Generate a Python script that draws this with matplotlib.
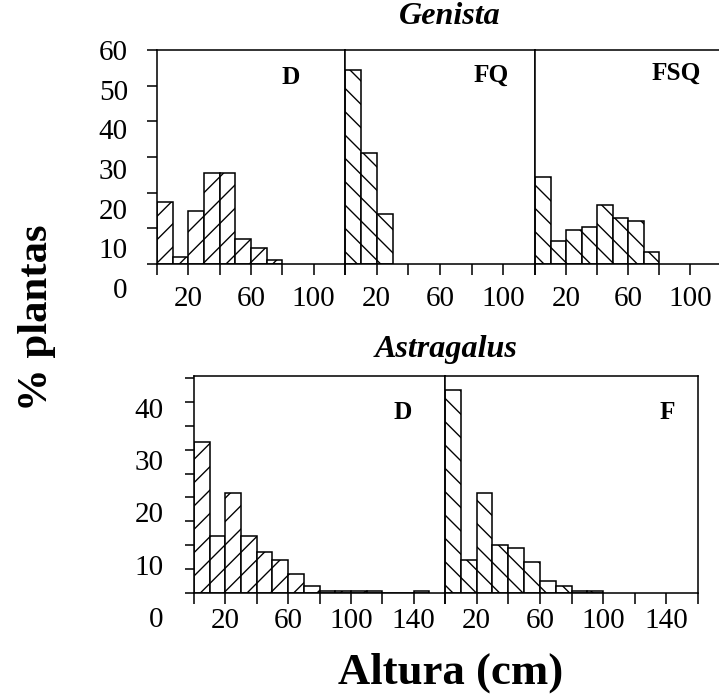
import matplotlib
matplotlib.use("Agg")
import matplotlib.pyplot as plt
from matplotlib.transforms import ScaledTranslation

plt.rcParams['font.family'] = ['Liberation Serif', 'DejaVu Serif']
plt.rcParams['hatch.linewidth'] = 0.7

# Genista: % de plantas por clase de altura (cm), borde izquierdo de cada clase
clases_genista_D = [0, 10, 20, 30, 40, 50, 60, 70]
genista_D = [17.5, 2, 15, 25.5, 25.5, 7, 4.5, 1]
clases_genista_FQ = [0, 10, 20]
genista_FQ = [54.5, 31, 14]
clases_genista_FSQ = [0, 10, 20, 30, 40, 50, 60, 70]
genista_FSQ = [24.5, 6.5, 9.5, 10.5, 16.5, 13, 12, 3.5]

# Astragalus
clases_astragalus_D = [0, 10, 20, 30, 40, 50, 60, 70, 80, 90, 100, 110, 120, 130, 140]
astragalus_D = [31.5, 12, 21, 12, 8.5, 7, 4, 1.5, 0.5, 0.5, 0.5, 0.5, 0, 0, 0.5]
clases_astragalus_F = [0, 10, 20, 30, 40, 50, 60, 70, 80, 90]
astragalus_F = [42.5, 7, 21, 10, 9.5, 6.5, 2.5, 1.5, 0.5, 0.5]

# ticks
xt_genista = [0, 20, 40, 60, 80, 100, 120]
xl_genista = ['', '20', '', '60', '', '100', '']
yt_genista = [0, 10, 20, 30, 40, 50, 60]
yl_genista = ['0', '10', '20', '30', '40', '50', '60']
xt_astragalus = [0, 20, 40, 60, 80, 100, 120, 140, 160]
xl_astragalus = ['', '20', '', '60', '', '100', '', '140', '']
yt_astragalus = [0, 5, 10, 15, 20, 25, 30, 35, 40, 45]
yl_astragalus = ['0', '', '10', '', '20', '', '30', '', '40', '']

W, H, DPI = 719, 700, 140
fig = plt.figure(figsize=(W / DPI, H / DPI), dpi=DPI)


def caja(x0, y0, x1, y1):
    # posicion en pixeles (origen arriba a la izquierda)
    return fig.add_axes([x0 / W, 1 - y1 / H, (x1 - x0) / W, (y1 - y0) / H])


def panel(ax, clases, valores, trama, letra, lx, ly, xmax, ymax, xt, xl, xpad):
    ax.bar(clases, valores, width=10, align='edge', facecolor='white',
           edgecolor='black', linewidth=0.8, hatch=trama, zorder=2)
    ax.set_xlim(0, xmax)
    ax.set_ylim(0, ymax)
    ax.set_xticks(xt)
    ax.set_xticklabels(xl)
    ax.set_yticks([])
    for s in ax.spines.values():
        s.set_linewidth(0.8)
    ax.tick_params(axis='x', direction='out', length=5.5, width=0.8,
                   labelsize=15, pad=xpad)
    ax.text(lx, ly, letra, transform=ax.transAxes, fontweight='bold',
            fontsize=13, ha='center', va='center')


def eje_y(ax, yt, yl, ytop, k, base, largo, pad):
    ax.set_yticks(yt)
    ax.set_yticklabels(yl)
    ax.tick_params(axis='y', direction='out', length=largo, width=0.8,
                   labelsize=15, pad=pad)
    # las etiquetas del original estan algo desplazadas hacia abajo
    for v, lab in zip(yt, ax.get_yticklabels()):
        dy = base + k * (ytop - v)
        lab.set_transform(lab.get_transform() +
                          ScaledTranslation(0, -dy / DPI, fig.dpi_scale_trans))


# fila de arriba: Genista
ax1 = caja(157, 50, 345, 264)
panel(ax1, clases_genista_D, genista_D, '//', 'D', 0.71, 0.87, 120, 60,
      xt_genista, xl_genista, 6)
eje_y(ax1, yt_genista, yl_genista, 60, 0.4, 0, 5, 10)

ax2 = caja(345, 50, 535, 264)
panel(ax2, clases_genista_FQ, genista_FQ, '\\\\', 'FQ', 0.77, 0.88, 120, 60,
      xt_genista, xl_genista, 6)

ax3 = caja(535, 50, 721, 264)
panel(ax3, clases_genista_FSQ, genista_FSQ, '\\\\', 'FSQ', 0.76, 0.89, 120, 60,
      xt_genista, xl_genista, 6)

# fila de abajo: Astragalus
ax4 = caja(194, 376, 445, 593)
panel(ax4, clases_astragalus_D, astragalus_D, '//', 'D', 0.83, 0.83, 160, 45.4,
      xt_astragalus, xl_astragalus, 2)
eje_y(ax4, yt_astragalus, yl_astragalus, 40, 0.45, 6, 4.7, 11)

ax5 = caja(445, 376, 698, 593)
panel(ax5, clases_astragalus_F, astragalus_F, '\\\\', 'F', 0.88, 0.83, 160, 45.4,
      xt_astragalus, xl_astragalus, 2)

fig.text(450 / W, 1 - 16 / H, 'Genista', ha='center', va='center',
         style='italic', fontweight='bold', fontsize=16.5)
fig.text(446 / W, 1 - 350 / H, 'Astragalus', ha='center', va='center',
         style='italic', fontweight='bold', fontsize=16.5)
fig.text(37 / W, 1 - 318 / H, '% plantas', rotation=90, ha='center',
         va='center', fontweight='bold', fontsize=22)
fig.text(451 / W, 1 - 673 / H, 'Altura (cm)', ha='center', va='center',
         fontweight='bold', fontsize=23)

fig.savefig('out.png', dpi=DPI, facecolor='white')
